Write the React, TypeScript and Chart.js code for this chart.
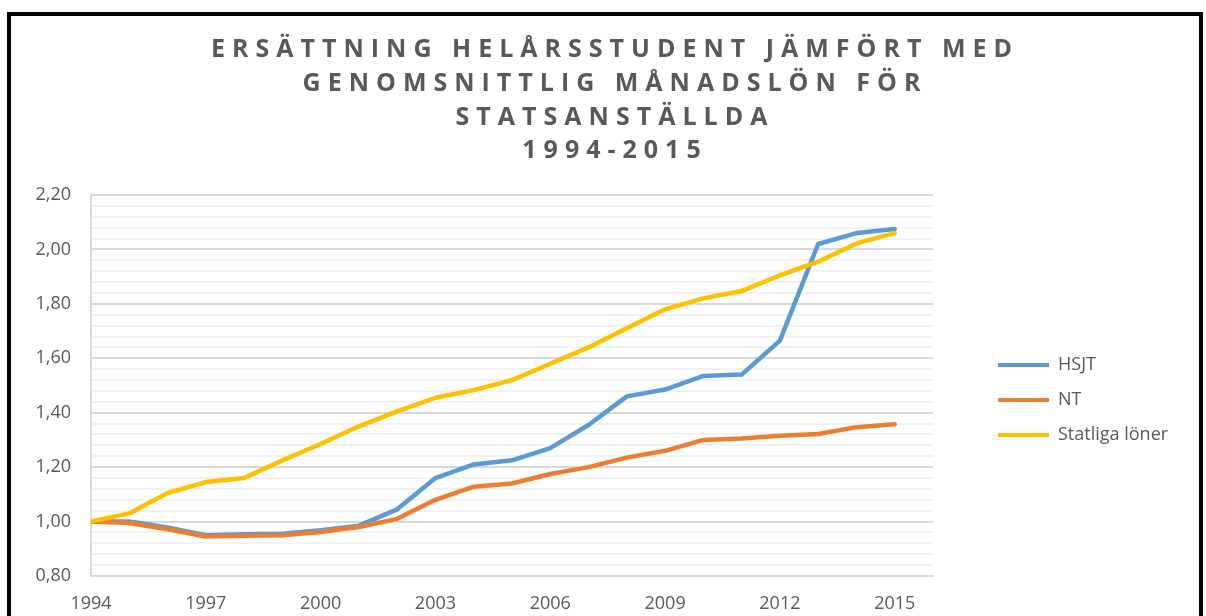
import React, { useEffect, useRef } from "react";
import { Chart, registerables } from "chart.js";

Chart.register(...registerables);

const titleLines = [
  "ERSÄTTNING HELÅRSSTUDENT JÄMFÖRT MED",
  "GENOMSNITTLIG MÅNADSLÖN FÖR",
  "STATSANSTÄLLDA",
  "1994-2015",
];

const years = [
  1994, 1995, 1996, 1997, 1998, 1999, 2000, 2001, 2002, 2003, 2004,
  2005, 2006, 2007, 2008, 2009, 2010, 2011, 2012, 2013, 2014, 2015,
];

const xTickYears = [1994, 1997, 2000, 2003, 2006, 2009, 2012, 2015];

const hsjt = [
  1.0, 1.0, 0.978, 0.95, 0.953, 0.955, 0.968, 0.985, 1.045, 1.16, 1.21,
  1.225, 1.27, 1.355, 1.46, 1.485, 1.535, 1.54, 1.665, 2.02, 2.06, 2.075,
];

const nt = [
  1.0, 0.995, 0.972, 0.945, 0.948, 0.95, 0.962, 0.98, 1.01, 1.08, 1.128,
  1.14, 1.175, 1.2, 1.235, 1.26, 1.3, 1.305, 1.315, 1.322, 1.347, 1.358,
];

const statliga = [
  1.0, 1.03, 1.105, 1.145, 1.16, 1.225, 1.285, 1.35, 1.405, 1.455, 1.483,
  1.52, 1.58, 1.64, 1.71, 1.78, 1.82, 1.847, 1.905, 1.955, 2.022, 2.06,
];

const seriesNames = ["HSJT", "NT", "Statliga löner"];

const TEXT = "#595959";
const FONT = "'Open Sans', 'Noto Sans', sans-serif";

export default function App() {
  const ref = useRef<HTMLCanvasElement | null>(null);

  useEffect(() => {
    if (!ref.current) return;
    const toXY = (vals: number[]) => years.map((x, i) => ({ x, y: vals[i] }));

    const titleSpacing = {
      id: "titleSpacing",
      beforeDraw(chart: any) {
        const tb = chart.titleBlock;
        if (tb && !tb.__ls) {
          const orig = tb.draw.bind(tb);
          tb.draw = (...a: any[]) => {
            const c = chart.ctx;
            c.save();
            c.letterSpacing = "7px";
            c.translate(22, 0);
            orig(...a);
            c.restore();
          };
          tb.__ls = true;
        }
      },
    };

    const chart = new Chart(ref.current, {
      type: "line",
      data: {
        datasets: [
          {
            label: seriesNames[0],
            data: toXY(hsjt),
            borderColor: "#5B9BD5",
            backgroundColor: "#5B9BD5",
            order: 3,
          },
          {
            label: seriesNames[1],
            data: toXY(nt),
            borderColor: "#ED7D31",
            backgroundColor: "#ED7D31",
            order: 2,
          },
          {
            label: seriesNames[2],
            data: toXY(statliga),
            borderColor: "#FFC000",
            backgroundColor: "#FFC000",
            order: 1,
          },
        ],
      },
      options: {
        animation: false,
        responsive: true,
        maintainAspectRatio: false,
        layout: { padding: { left: 0, right: 24, top: 0, bottom: 1 } },
        elements: {
          line: {
            borderWidth: 4.5,
            tension: 0,
            borderCapStyle: "round",
            borderJoinStyle: "round",
          },
          point: { radius: 0, hoverRadius: 0, borderWidth: 4 },
        },
        scales: {
          x: {
            type: "linear",
            min: 1994,
            max: 2016,
            afterBuildTicks: (s: any) => {
              s.ticks = xTickYears.map((v) => ({ value: v }));
            },
            afterFit: (s: any) => {
              s.height = 39;
            },
            grid: { display: false, drawTicks: false },
            border: { display: true, color: "#d9d9d9", width: 2 },
            ticks: {
              autoSkip: false,
              maxRotation: 0,
              padding: 17,
              color: TEXT,
              font: { family: FONT, size: 18 },
              callback: (v: any) => String(v),
            },
          },
          y: {
            type: "linear",
            min: 0.8,
            max: 2.2,
            afterFit: (s: any) => {
              s.width = 80;
            },
            grid: {
              drawTicks: false,
              lineWidth: 2,
              color: (ctx: any) =>
                ctx.tick && Math.round(ctx.tick.value * 100) % 20 === 0
                  ? "#d9d9d9"
                  : "#f2f2f2",
            },
            border: { display: true, color: "#d9d9d9", width: 2 },
            ticks: {
              stepSize: 0.04,
              autoSkip: false,
              padding: 20,
              color: TEXT,
              font: { family: FONT, size: 18 },
              callback: (v: any) =>
                Math.round(v * 100) % 20 === 0
                  ? Number(v).toFixed(2).replace(".", ",")
                  : "",
            },
          },
          yR: {
            type: "linear",
            position: "right",
            display: true,
            grid: { display: false },
            border: { display: false },
            ticks: { display: false },
            afterFit: (s: any) => {
              s.width = 48;
            },
          },
        },
        plugins: {
          title: {
            display: true,
            text: titleLines,
            color: TEXT,
            font: { family: FONT, size: 25, weight: "bold", lineHeight: 1.35 },
            padding: { top: 17, bottom: 27 },
          },
          legend: {
            display: true,
            position: "right",
            align: "center",
            fullSize: false,
            title: {
              display: true,
              text: "",
              font: { size: 1, lineHeight: 1 },
              padding: { top: 28, bottom: 0 },
            },
            labels: {
              usePointStyle: true,
              pointStyle: "line",
              pointStyleWidth: 51,
              padding: 17,
              color: TEXT,
              font: { family: FONT, size: 18 },
              sort: (a: any, b: any) => a.datasetIndex - b.datasetIndex,
            },
          },
          tooltip: { enabled: false },
        },
      },
      plugins: [titleSpacing],
    } as any);
    chart.draw();
    return () => chart.destroy();
  }, []);

  return (
    <div
      style={{
        position: "fixed",
        left: 7,
        top: 12,
        width: 1196,
        height: 604,
        boxSizing: "border-box",
        borderTop: "4px solid #000",
        borderLeft: "4px solid #000",
        borderRight: "4px solid #000",
        background: "#fff",
        overflow: "hidden",
      }}
    >
      <div style={{ position: "relative", width: 1188, height: 600 }}>
        <canvas ref={ref} />
      </div>
    </div>
  );
}
